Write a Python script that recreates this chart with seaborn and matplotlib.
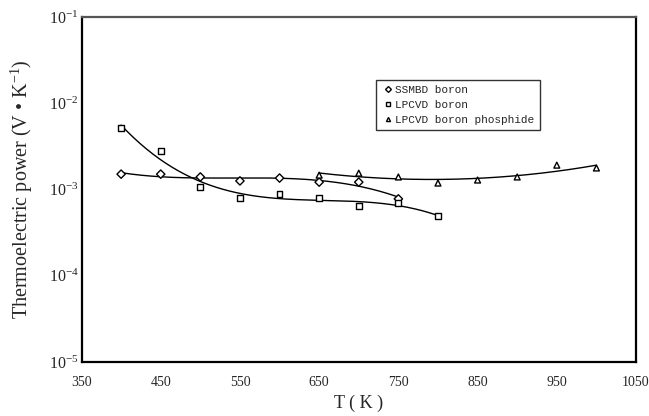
import numpy as np
import pandas as pd
import matplotlib
matplotlib.use("Agg")
import matplotlib.pyplot as plt
import seaborn as sns

# ---- data ----
t_ssmbd = [400, 450, 500, 550, 600, 650, 700, 750]
v_ssmbd = [1.51e-3, 1.51e-3, 1.40e-3, 1.26e-3, 1.36e-3, 1.22e-3, 1.22e-3, 0.78e-3]

t_lpb = [400, 450, 500, 550, 600, 650, 700, 750, 800]
v_lpb = [5.16e-3, 2.79e-3, 1.07e-3, 0.80e-3, 0.89e-3, 0.80e-3, 0.64e-3, 0.70e-3, 0.49e-3]

t_lpbp = [650, 700, 750, 800, 850, 900, 950, 1000]
v_lpbp = [1.47e-3, 1.55e-3, 1.40e-3, 1.19e-3, 1.29e-3, 1.40e-3, 1.92e-3, 1.78e-3]

series_names = ["SSMBD boron", "LPCVD boron", "LPCVD boron phosphide"]
x_ticks = [350, 450, 550, 650, 750, 850, 950, 1050]
y_ticks = [1e-5, 1e-4, 1e-3, 1e-2, 1e-1]
y_tick_labels = [r"$\mathregular{10^{-5}}$", r"$\mathregular{10^{-4}}$", r"$\mathregular{10^{-3}}$",
                 r"$\mathregular{10^{-2}}$", r"$\mathregular{10^{-1}}$"]

sns.set_style("white")
plt.rcParams["font.family"] = ["Liberation Serif", "DejaVu Serif"]
plt.rcParams["mathtext.fontset"] = "custom"
plt.rcParams["mathtext.rm"] = "Liberation Serif"

fig = plt.figure(figsize=(6.49, 4.16), dpi=100)
ax = fig.add_axes([0.1256, 0.1298, 0.8544, 0.829])

pts = pd.concat([
    pd.DataFrame({"T": t_ssmbd, "S": v_ssmbd, "series": series_names[0]}),
    pd.DataFrame({"T": t_lpb, "S": v_lpb, "series": series_names[1]}),
    pd.DataFrame({"T": t_lpbp, "S": v_lpbp, "series": series_names[2]}),
], ignore_index=True)

# smooth trend curves (polynomial fit in log space)
fits = []
for (t, v, deg), name in zip([(t_ssmbd, v_ssmbd, 3), (t_lpb, v_lpb, 3), (t_lpbp, v_lpbp, 3)], series_names):
    c = np.polyfit(t, np.log10(v), deg)
    tt = np.linspace(min(t), max(t), 200)
    fits.append(pd.DataFrame({"T": tt, "S": 10 ** np.polyval(c, tt), "series": name}))
fit_df = pd.concat(fits, ignore_index=True)

sns.lineplot(data=fit_df, x="T", y="S", units="series", estimator=None, color="black",
             linewidth=1.0, ax=ax, legend=False)
sns.scatterplot(data=pts, x="T", y="S", style="series", markers={series_names[0]: "D",
                series_names[1]: "s", series_names[2]: "^"}, s=18, color="white",
                edgecolor="black", linewidth=1.0, ax=ax, zorder=3)

ax.set_yscale("log")
ax.set_xlim(350, 1050)
ax.set_ylim(1e-5, 1e-1)
ax.set_xticks(x_ticks)
ax.set_xticklabels([str(x) for x in x_ticks], fontsize=10)
ax.set_yticks(y_ticks)
ax.set_yticklabels(y_tick_labels, fontsize=11.5)
ax.minorticks_off()
ax.yaxis.set_minor_locator(matplotlib.ticker.NullLocator())
ax.tick_params(axis="x", direction="in", length=3, width=0.8, color="black", pad=10)
ax.tick_params(axis="y", direction="in", length=3, width=0.8, color="black", pad=2)
for name, sp in ax.spines.items():
    sp.set_color("black")
    sp.set_linewidth(1.6)
ax.spines["top"].set_color("#555555")

ax.set_xlabel("T ( K )", fontsize=13, labelpad=4)
ax.set_ylabel("Thermoelectric power (V \u2022 K$\\mathregular{^{-1}}$)", fontsize=14.5, labelpad=10)

leg = ax.legend(loc="upper left", bbox_to_anchor=(0.531, 0.817), borderaxespad=0,
                prop={"family": "Liberation Mono", "size": 8},
                frameon=True, fancybox=False, edgecolor="black", handletextpad=0.0,
                borderpad=0.45, labelspacing=0.45, handlelength=1.3, markerscale=0.7)
leg.get_frame().set_linewidth(1.0)

fig.savefig("out.png", dpi=100)
